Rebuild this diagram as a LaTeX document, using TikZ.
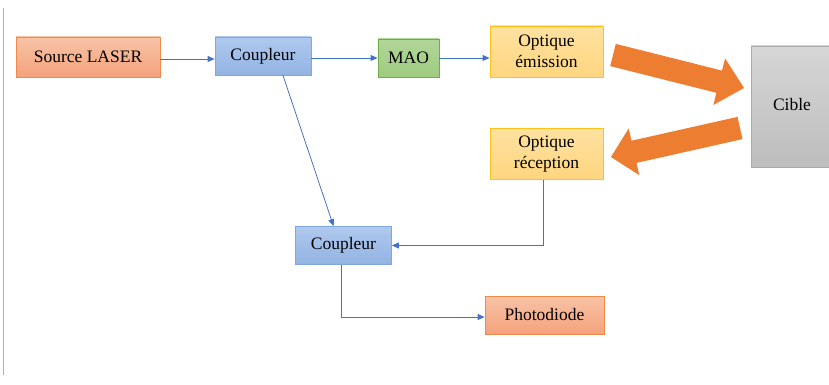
\documentclass[tikz,border=0pt]{standalone}
\usepackage{fontspec}
\setmainfont{Liberation Serif}
\newfontfamily\tnr{Liberation Serif}
\usetikzlibrary{arrows.meta}
\definecolor{orT}{HTML}{F8C3A6}
\definecolor{orB}{HTML}{F4A27C}
\definecolor{orD}{HTML}{F08A4B}
\definecolor{blT}{HTML}{B0C9EE}
\definecolor{blB}{HTML}{92B3E3}
\definecolor{blD}{HTML}{7EA6DF}
\definecolor{grT}{HTML}{B2D69A}
\definecolor{grB}{HTML}{9ECB80}
\definecolor{grD}{HTML}{6FAD47}
\definecolor{yeT}{HTML}{FFE1A0}
\definecolor{yeB}{HTML}{FFD680}
\definecolor{yeD}{HTML}{FFC21A}
\definecolor{gyT}{HTML}{D6D6D6}
\definecolor{gyB}{HTML}{BDBDBD}
\definecolor{gyD}{HTML}{AAAAAA}
\definecolor{lnk}{HTML}{4472C4}
\definecolor{big}{HTML}{ED7D31}
\begin{document}
\begin{tikzpicture}[x=1pt,y=-1pt,
  box/.style={rectangle, inner sep=0pt, line width=0.8pt, align=center,
    font=\tnr\fontsize{17.5}{21}\selectfont},
  orbox/.style={box, draw=orD, top color=orT, bottom color=orB},
  blbox/.style={box, draw=blD, top color=blT, bottom color=blB},
  grbox/.style={box, draw=grD, top color=grT, bottom color=grB},
  yebox/.style={box, draw=yeD, top color=yeT, bottom color=yeB},
  gybox/.style={box, draw=gyD, top color=gyT, bottom color=gyB},
  conn/.style={draw=lnk, line width=0.8pt, -{Triangle[length=7pt,width=6pt]}},
  bigarrow/.style={fill=big, draw=none}]
\useasboundingbox (0,0) rectangle (829,385);
\draw[gray!60, line width=1pt] (3,8) -- (3,375);

\node[orbox, minimum width=144pt, minimum height=40pt] (src) at (88,57) {Source LASER};
\node[blbox, minimum width=96pt, minimum height=38pt] (c1) at (263,56) {Coupleur};
\node[grbox, minimum width=61pt, minimum height=38pt] (mao) at (408.5,58) {MAO};
\node[yebox, minimum width=113pt, minimum height=51pt] (oem) at (546.5,51.5) {Optique\\émission};
\node[gybox, minimum width=78pt, minimum height=121pt] (cib) at (790,106.5) {\hspace*{4pt}\raisebox{4pt}{Cible}};
\node[yebox, minimum width=113pt, minimum height=51pt] (orec) at (546.5,154) {Optique\\réception};
\node[blbox, minimum width=96pt, minimum height=38pt] (c2) at (343.5,245.5) {Coupleur};
\node[orbox, minimum width=119pt, minimum height=38pt] (pd) at (544.5,315) {Photodiode};

\draw[conn] ([yshift=-2pt]src.east) -- ([yshift=-2pt]src.east -| c1.west);
\draw[conn] ([yshift=-2pt]c1.east) -- ([yshift=-2pt]c1.east -| mao.west);
\draw[conn] (mao.east) -- (mao.east -| oem.west);
\draw[conn] ([xshift=20pt]c1.south) -- ([xshift=-10pt]c2.north);
\draw[conn] ([xshift=-3.5pt]orec.south) |- (c2.east);
\draw[conn] ([xshift=-2.5pt]c2.south) |- ([yshift=-2pt]pd.west);

\path[bigarrow] (615.8,43.9) -- (722,70.6) -- (725.1,58.4) -- (744,88) -- (713.3,105) -- (716.4,92.8) -- (610.2,66.1) -- cycle;
\path[bigarrow] (737.5,116.9) -- (631.5,140.7) -- (628.7,128.4) -- (611,157) -- (639.3,175.2) -- (636.5,162.9) -- (742.5,139.1) -- cycle;
\end{tikzpicture}
\end{document}
